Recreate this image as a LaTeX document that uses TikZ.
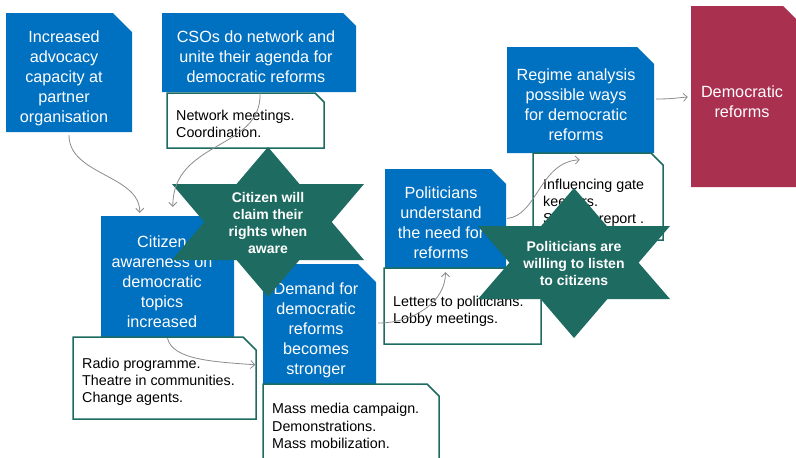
\documentclass[tikz,border=0pt]{standalone}
\usepackage{fontspec}
\setmainfont{Liberation Sans}
\usetikzlibrary{arrows.meta,calc,fit}
\definecolor{pblue}{RGB}{0,112,192}
\definecolor{pteal}{RGB}{30,107,97}
\definecolor{pred}{RGB}{170,48,80}
\definecolor{pgray}{RGB}{140,140,140}
% #1 style, #2 name, #3 x1, #4 y1, #5 x2, #6 y2, #7 snip size
\newcommand\snipbox[7]{%
  \path[#1] (#3,#4) -- ({#5-#7},#4) -- (#5,{#4+#7}) -- (#5,#6) -- (#3,#6) -- cycle;
  \node[fit={(#3,#4) (#5,#6)}, inner sep=0pt] (#2) {};}
\begin{document}
\begin{tikzpicture}[x=1pt,y=-1pt,
  bluebox/.style={fill=pblue},
  whitebox/.style={fill=white, draw=pteal, line width=1.5pt},
  redbox/.style={fill=pred},
  btext/.style={text=white, align=center, font=\fontsize{16.2}{20}\selectfont, inner sep=0pt},
  wtext/.style={text=black, align=left, anchor=west, font=\fontsize{14.3}{17.2}\selectfont, inner sep=0pt},
  stext/.style={text=white, align=center, font=\bfseries\fontsize{14}{17}\selectfont, inner sep=0pt},
  conn/.style={draw=pgray, line width=0.8pt, -{Straight Barb[length=4pt,width=8pt]}},
  starfill/.style={fill=pteal}]
\useasboundingbox (0,0) rectangle (796,458);
\fill[white] (0,0) rectangle (796,458);

% left column
\snipbox{bluebox}{adv}{6}{13}{132}{132}{19}
\node[btext] (advT) at (64,78) {Increased\\advocacy\\capacity at\\partner\\organisation};

\snipbox{bluebox}{cso}{162}{13}{356}{92}{13}
\node[btext] (csoT) at (256,57) {CSOs do network and\\unite their agenda for\\democratic reforms};
\snipbox{whitebox}{net}{167}{93}{324}{148}{9}
\node[wtext] (netT) at (176,123.5) {Network meetings.\\Coordination.};

\snipbox{bluebox}{aware}{101}{216}{234}{340}{15}
\node[btext] (awareT) at (162,282) {Citizen\\awareness on\\democratic\\topics\\increased};
\snipbox{whitebox}{radio}{73}{337}{256}{419}{13}
\node[wtext] (radioT) at (82,382) {Radio programme.\\Theatre in communities.\\Change agents.};

\snipbox{bluebox}{demand}{263}{264}{376}{386}{18}
\node[btext] (demandT) at (316,330) {Demand for\\democratic\\reforms\\becomes\\stronger};
\snipbox{whitebox}{mass}{263}{384}{439}{470}{12}
\node[wtext] (massT) at (272,426) {Mass media campaign.\\Demonstrations.\\Mass mobilization.};

\snipbox{bluebox}{pol}{385}{169}{506}{270}{15}
\node[btext] (polT) at (441,223) {Politicians\\understand\\the need for\\reforms};
\snipbox{whitebox}{letters}{384}{268}{541}{344}{12}
\node[wtext] (lettersT) at (393,311.5) {Letters to politicians.\\Lobby meetings.};

\snipbox{bluebox}{regime}{507}{47}{654}{153}{17}
\node[btext] (regimeT) at (576,105) {Regime analysis\\possible ways\\for democratic\\reforms};
\snipbox{whitebox}{infl}{533}{153}{663}{240}{12}
\node[wtext] (inflT) at (543,203) {Influencing gate\\keepers.\\Shadow report .};

\snipbox{redbox}{dem}{691}{6}{806}{187}{23}
\node[btext] (demT) at (742,102) {Democratic\\reforms};

% stars
\begin{scope}[shift={(268,222)}]
  \fill[starfill] (0,-75) -- (96,38) -- (-96,38) -- cycle;
  \fill[starfill] (0,75) -- (96,-38) -- (-96,-38) -- cycle;
  \node[stext] (star1) at (0,0.5) {Citizen will\\claim their\\rights when\\aware};
\end{scope}
\begin{scope}[shift={(574,263)}]
  \fill[starfill] (0,-75) -- (96,36) -- (-96,36) -- cycle;
  \fill[starfill] (0,75) -- (96,-37) -- (-96,-37) -- cycle;
  \node[stext] (star2) at (0,0.5) {Politicians are\\willing to listen\\to citizens};
\end{scope}

% connectors
\draw[conn] ($(adv.south)+(0,3)$) .. controls +(0,40) and +(0,-38) .. ($(aware.north west)+(39,-3)$);
\draw[conn] ($(cso.south)+(1,1)$) .. controls +(2,57) and +(0,-67) .. ($(aware.north west)+(72,-9)$);
\draw[conn] ($(aware.south)+(0,-2)$) .. controls +(5,22) and +(-40,-3) .. ($(radio.north east)+(-1,28)$);
\draw[conn] ($(demand.east)+(2,-2)$) .. controls +(35,0) and +(0,30) .. ($(pol.south)+(0,2)$);
\draw[conn] ($(pol.east)+(1,-1)$) .. controls +(30,-3) and +(-40,2) .. ($(infl.north west)+(47,7)$);
\draw[conn] ($(regime.east)+(2,-1)$) .. controls +(15,0) and +(-12,1) .. ($(dem.west)+(-3,0.5)$);
\end{tikzpicture}
\end{document}
